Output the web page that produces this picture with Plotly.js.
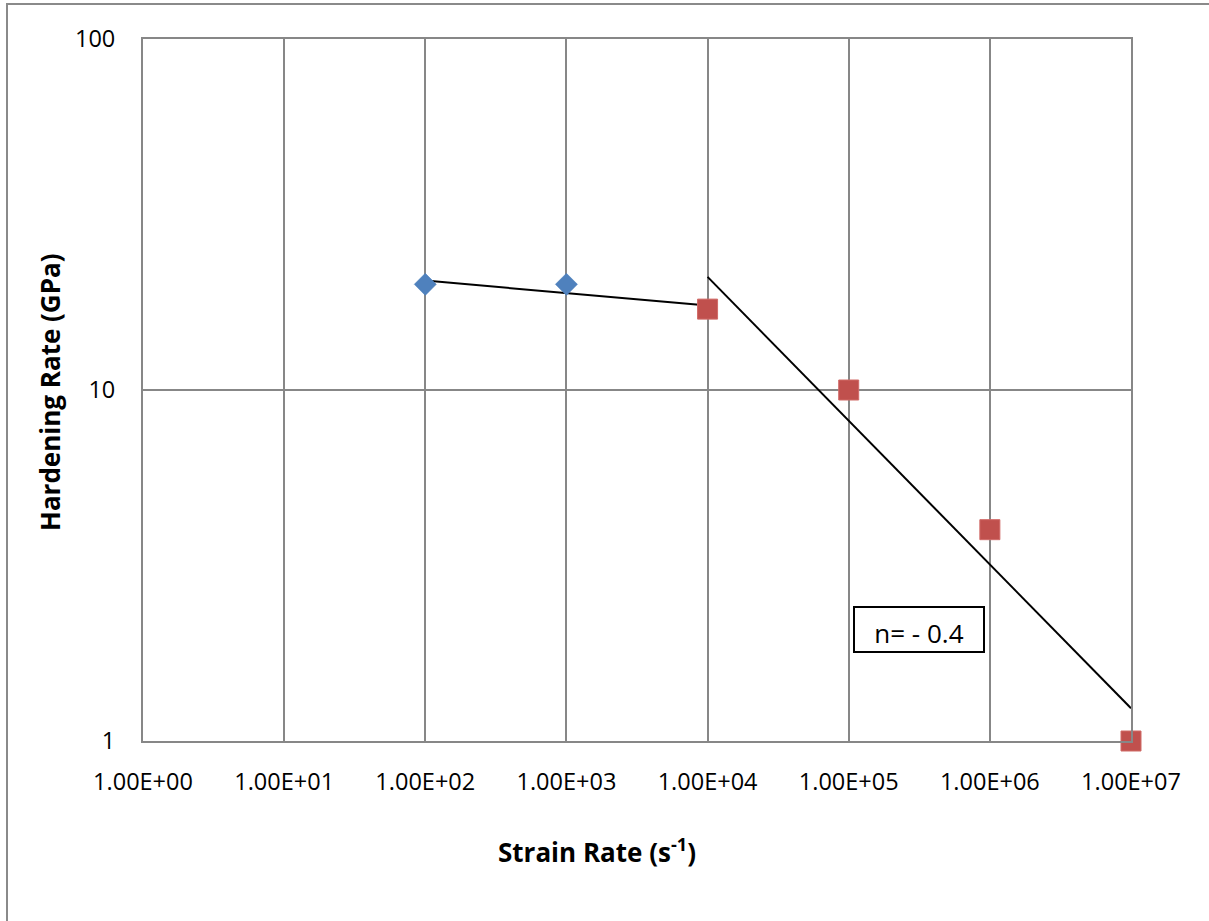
<!DOCTYPE html>
<html>
<head>
<meta charset="utf-8">
<script src="https://cdn.plot.ly/plotly-3.0.1.min.js"></script>
<style>
  html, body { margin: 0; padding: 0; background: #fff; overflow: hidden; }
  #chart { width: 1209px; height: 921px; }
</style>
</head>
<body>
<div id="chart"></div>
<script>
// Measured hardening rate versus strain rate
const lowRateX = [100, 1000];
const lowRateY = [20, 20];
const highRateX = [1e4, 1e5, 1e6, 1e7];
const highRateY = [17, 10, 4, 1];

// Power-law trendlines (end points)
const fitLowX = [100, 1e4];
const fitLowY = [20.5, 17.4];
const fitHighX = [1e4, 1e7];
const fitHighY = [21.0, 1.24];

// Axis tick values and labels
const xTickVals = [1, 10, 100, 1e3, 1e4, 1e5, 1e6, 1e7];
const xTickText = ['1.00E+00', '1.00E+01', '1.00E+02', '1.00E+03', '1.00E+04', '1.00E+05', '1.00E+06', '1.00E+07'];
const yTickVals = [1, 10, 100];
const yTickText = ['1', '10', '100'];

const slopeLabel = 'n= - 0.4';

const FONT = '"Open Sans", "Liberation Sans", sans-serif';
const GRID = '#878787';

const traces = [
  {
    x: fitLowX, y: fitLowY, type: 'scatter', mode: 'lines',
    line: { color: '#000', width: 2 }, hoverinfo: 'skip', showlegend: false
  },
  {
    x: fitHighX, y: fitHighY, type: 'scatter', mode: 'lines',
    line: { color: '#000', width: 2 }, hoverinfo: 'skip', showlegend: false
  },
  {
    x: lowRateX, y: lowRateY, type: 'scatter', mode: 'markers', cliponaxis: false,
    marker: { symbol: 'diamond', size: 17, color: '#4F81BD', line: { color: '#4A7EBB', width: 0.5 } },
    showlegend: false
  },
  {
    x: highRateX, y: highRateY, type: 'scatter', mode: 'markers', cliponaxis: false,
    marker: { symbol: 'square', size: 20, color: '#C0504D', line: { color: '#D06A67', width: 1 } },
    showlegend: false
  }
];

// plot area in pixels: x 143..1131, y 39..741
const plotL = 143, plotR = 1131, plotT = 39, plotB = 741;
const pw = plotR - plotL, ph = plotB - plotT;
const px = v => (v - plotL) / pw;
const py = v => (plotB - v) / ph;

const layout = {
  width: 1209, height: 921,
  margin: { l: plotL, r: 1209 - plotR, t: plotT, b: 921 - plotB, pad: 0 },
  paper_bgcolor: '#fff', plot_bgcolor: '#fff',
  font: { family: FONT, color: '#000', size: 23 },
  xaxis: {
    type: 'log', range: [0, 7],
    tickmode: 'array', tickvals: xTickVals, ticktext: xTickText,
    showgrid: true, gridcolor: GRID, gridwidth: 2,
    showline: true, linecolor: GRID, linewidth: 2, mirror: true,
    ticks: '', ticklabelstandoff: 19, zeroline: false,
    tickfont: { family: FONT, size: 23.5, color: '#000' },
    fixedrange: true
  },
  yaxis: {
    type: 'log', range: [0, 2],
    tickmode: 'array', tickvals: yTickVals, ticktext: yTickText,
    showgrid: true, gridcolor: GRID, gridwidth: 2,
    showline: true, linecolor: GRID, linewidth: 2, mirror: true,
    ticks: '', ticklabelstandoff: 21, zeroline: false,
    tickfont: { family: FONT, size: 23.5, color: '#000' },
    fixedrange: true
  },
  shapes: [
    // chart-area frame (left and top edges visible)
    {
      type: 'rect', xref: 'paper', yref: 'paper', layer: 'below',
      x0: px(7), x1: px(1400), y0: py(1200), y1: py(4),
      line: { color: '#8A8A8A', width: 2 }, fillcolor: 'rgba(0,0,0,0)'
    }
  ],
  annotations: [
    {
      xref: 'paper', yref: 'paper', x: px(597), y: py(851),
      xanchor: 'center', yanchor: 'middle', showarrow: false,
      text: '<b>Strain Rate (s<sup>-1</sup>)</b>',
      font: { family: FONT, size: 26, color: '#000' }
    },
    {
      xref: 'paper', yref: 'paper', x: px(50), y: py(392),
      xanchor: 'center', yanchor: 'middle', showarrow: false, textangle: -90,
      text: '<b>Hardening Rate (GPa)</b>',
      font: { family: FONT, size: 26, color: '#000' }
    },
    {
      xref: 'paper', yref: 'paper', x: px(918.5), y: py(629.5),
      xanchor: 'center', yanchor: 'middle', showarrow: false,
      text: slopeLabel, width: 128, height: 43, valign: 'bottom',
      bordercolor: '#000', borderwidth: 2, borderpad: 0, bgcolor: '#fff',
      font: { family: FONT, size: 26, color: '#000' }
    }
  ]
};

Plotly.newPlot('chart', traces, layout, { displayModeBar: false, staticPlot: true });
</script>
</body>
</html>
